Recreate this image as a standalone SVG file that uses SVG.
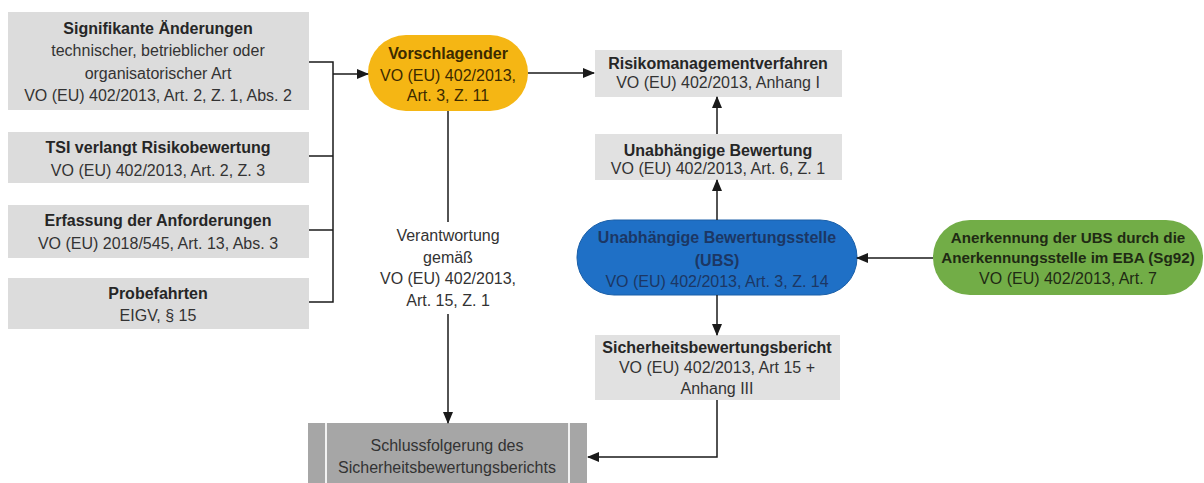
<svg xmlns="http://www.w3.org/2000/svg" width="1204" height="483" viewBox="0 0 1204 483">
<defs>
<marker id="ah" markerUnits="userSpaceOnUse" markerWidth="12" markerHeight="10" refX="11" refY="5" orient="auto">
<path d="M0,0 L12,5 L0,10 Z" fill="#1a1a1a"/>
</marker>
<style>
text{font-family:"Liberation Sans",Arial,sans-serif;font-size:16px;text-anchor:middle;fill:#333}
.b{font-weight:bold;fill:#262626}
.box{fill:#dcdcdc}
.rbox{fill:#e1e1e1}
.con{fill:none;stroke:#1a1a1a;stroke-width:1.5}
.yt{fill:#3b2a00}
.bt{fill:#1c3764}
.gt{fill:#1f2a14}
.sm{font-size:15.2px}
</style>
</defs>
<rect width="1204" height="483" fill="#ffffff"/>

<g id="n_sig">
<rect class="box" x="8" y="12" width="301" height="98"/>
<text x="158" y="34" class="b">Signifikante Änderungen</text>
<text x="158" y="56">technischer, betrieblicher oder</text>
<text x="158" y="79">organisatorischer Art</text>
<text x="158" y="101">VO (EU) 402/2013, Art. 2, Z. 1, Abs. 2</text>
</g>
<g id="n_tsi">
<rect class="box" x="8" y="132" width="301" height="51"/>
<text x="158" y="153" class="b">TSI verlangt Risikobewertung</text>
<text x="158" y="176">VO (EU) 402/2013, Art. 2, Z. 3</text>
</g>
<g id="n_erf">
<rect class="box" x="8" y="205" width="301" height="53"/>
<text x="158" y="226" class="b">Erfassung der Anforderungen</text>
<text x="158" y="249">VO (EU) 2018/545, Art. 13, Abs. 3</text>
</g>
<g id="n_probe">
<rect class="box" x="8" y="278" width="301" height="51"/>
<text x="158" y="299" class="b">Probefahrten</text>
<text x="158" y="321">EIGV, § 15</text>
</g>

<g id="n_vorschl">
<rect x="368" y="35" width="160" height="76" rx="38" ry="38" fill="#f5b614"/>
<text x="448" y="59" class="b yt">Vorschlagender</text>
<text x="448" y="81" class="yt">VO (EU) 402/2013,</text>
<text x="448" y="101" class="yt">Art. 3, Z. 11</text>
</g>

<g id="n_risiko">
<rect class="rbox" x="595" y="50" width="247" height="47"/>
<text x="718" y="69" class="b">Risikomanagementverfahren</text>
<text x="718" y="88">VO (EU) 402/2013, Anhang I</text>
</g>
<g id="n_unabh">
<rect class="rbox" x="595" y="134" width="247" height="46"/>
<text x="718" y="156" class="b">Unabhängige Bewertung</text>
<text x="718" y="174">VO (EU) 402/2013, Art. 6, Z. 1</text>
</g>

<g id="n_ubs">
<rect x="577" y="220" width="280" height="75" rx="37" ry="37" fill="#1f70c6" stroke="#1a5fa8" stroke-width="1"/>
<text x="717" y="243" class="b bt">Unabhängige Bewertungsstelle</text>
<text x="717" y="266" class="b bt">(UBS)</text>
<text x="717" y="287" class="bt">VO (EU) 402/2013, Art. 3, Z. 14</text>
</g>

<g id="n_anerk">
<rect x="933" y="220" width="270" height="75" rx="37" ry="37" fill="#72ad47"/>
<text x="1068" y="243" class="b gt sm">Anerkennung der UBS durch die</text>
<text x="1068" y="263" class="b gt sm">Anerkennungsstelle im EBA (Sg92)</text>
<text x="1068" y="284" class="gt">VO (EU) 402/2013, Art. 7</text>
</g>

<g id="n_sbb">
<rect class="rbox" x="595" y="335" width="245" height="65"/>
<text x="717" y="353" class="b">Sicherheitsbewertungsbericht</text>
<text x="717" y="373">VO (EU) 402/2013, Art 15 +</text>
<text x="717" y="394">Anhang III</text>
</g>

<g id="n_schluss">
<rect x="308" y="423" width="279" height="60" fill="#a6a6a6"/>
<rect x="325" y="423" width="2" height="60" fill="#f2f2f2"/>
<rect x="568" y="423" width="2" height="60" fill="#f2f2f2"/>
<text x="447" y="451">Schlussfolgerung des</text>
<text x="447" y="473">Sicherheitsbewertungsberichts</text>
</g>

<g id="verantwortung_label">
<text x="448" y="241">Verantwortung</text>
<text x="448" y="263">gemäß</text>
<text x="448" y="284">VO (EU) 402/2013,</text>
<text x="448" y="306">Art. 15, Z. 1</text>
</g>

<g id="connectors">
<polyline class="con" points="309,62 333,62 333,302 309,302"/>
<line class="con" x1="309" y1="156" x2="333" y2="156"/>
<line class="con" x1="309" y1="230" x2="333" y2="230"/>
<line class="con" x1="333" y1="74" x2="368" y2="74" marker-end="url(#ah)"/>
<line class="con" x1="528" y1="73" x2="594" y2="73" marker-end="url(#ah)"/>
<line class="con" x1="717" y1="134" x2="717" y2="97" marker-end="url(#ah)"/>
<line class="con" x1="717" y1="220" x2="717" y2="180" marker-end="url(#ah)"/>
<line class="con" x1="717" y1="295" x2="717" y2="335" marker-end="url(#ah)"/>
<line class="con" x1="933" y1="258" x2="857" y2="258" marker-end="url(#ah)"/>
<line class="con" x1="448" y1="111" x2="448" y2="222"/>
<line class="con" x1="448" y1="314" x2="448" y2="423" marker-end="url(#ah)"/>
<polyline class="con" points="717,400 717,457 588,457" marker-end="url(#ah)"/>
</g>
</svg>
